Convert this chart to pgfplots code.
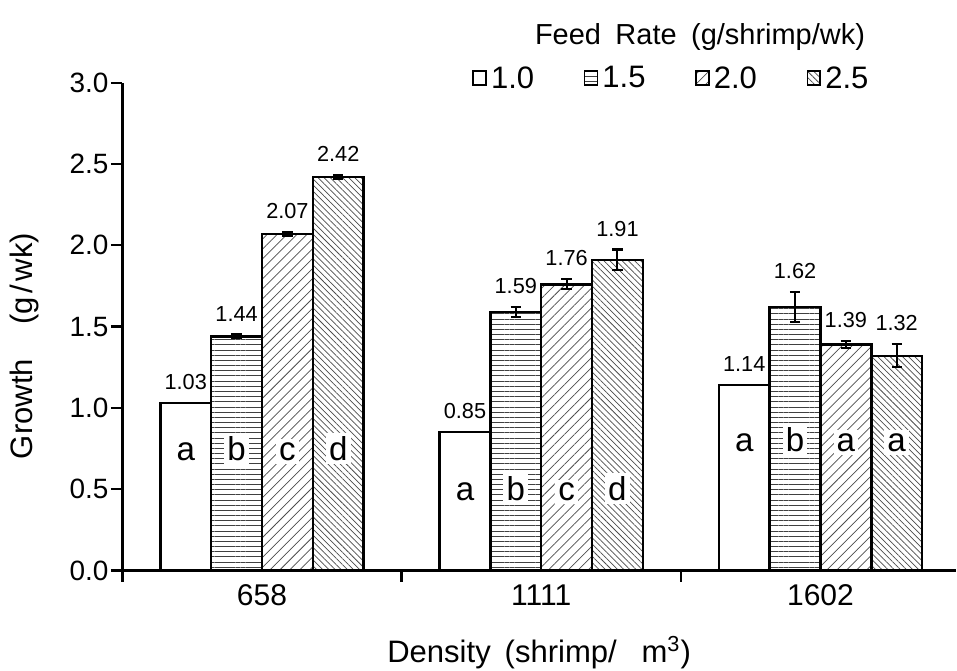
\documentclass[border=0pt]{standalone}
\usepackage{pgfplots}
\usepackage{pgfplotstable}
\pgfplotsset{compat=1.18}
\usepackage{fontspec}
\setmainfont{Liberation Sans}
\usetikzlibrary{patterns,patterns.meta}

\pgfplotstableread{
x y err lab let ly
0 1.03 0.0 1.03 a 0.677
1 0.85 0.0 0.85 a 0.43
2 1.14 0.0 1.14 a 0.733
}\tA
\pgfplotstableread{
x y err lab let ly
0 1.44 0.012 1.44 b 0.677
1 1.59 0.03 1.59 b 0.43
2 1.62 0.09 1.62 b 0.733
}\tB
\pgfplotstableread{
x y err lab let ly
0 2.07 0.012 2.07 c 0.677
1 1.76 0.03 1.76 c 0.43
2 1.39 0.02 1.39 a 0.733
}\tC
\pgfplotstableread{
x y err lab let ly
0 2.42 0.012 2.42 d 0.677
1 1.91 0.064 1.91 d 0.43
2 1.32 0.07 1.32 a 0.733
}\tD

\pgfplotsset{
  legsq/.style={legend image code/.code={\draw[##1,line width=0.8pt,draw=black] (0pt,-3pt) rectangle (6.2pt,3.6pt);}},
  mybar/.style={ybar, bar width=0.182, bar shift=0pt, draw=black, line width=1.2pt,
    error bars/.cd, y dir=both, y explicit,
    error bar style={line width=1pt, black},
    error mark options={rotate=90, line width=1pt, mark size=2.5pt, black},
    /pgfplots/.cd,
    nodes near coords, point meta=explicit symbolic,
    visualization depends on={\thisrow{err} \as \myerr},
    every node near coord/.append style={shift={(axis direction cs:0,\myerr)}, anchor=south, inner sep=1pt, yshift=4.8pt, font=\fontsize{10.5}{10.5}\selectfont, text=black},
    legsq},
  letters/.style={only marks, mark=none, forget plot, nodes near coords, point meta=explicit symbolic,
    every node near coord/.append style={anchor=base, inner sep=1.5pt, font=\fontsize{16}{16}\selectfont, text=black, fill=white}},
}

\begin{document}
\begin{tikzpicture}
\begin{axis}[
  scale only axis, width=402.9pt, height=235.8pt,
  xmin=-0.5, xmax=2.485, ymin=0, ymax=3,
  axis x line=bottom, axis y line=left,
  axis line style={-, line width=1.1pt},
  tick align=outside, major tick length=5.5pt,
  tick style={line width=1.1pt, black},
  ytick={0,0.5,1,1.5,2,2.5,3},
  yticklabel style={inner xsep=1pt, font=\fontsize{13.5}{14}\selectfont, /pgf/number format/.cd, fixed, precision=1, zerofill, assume math mode=true},
  xtick={-0.5,0.5,1.5}, xticklabels={},
  extra x ticks={0,1,2}, extra x tick labels={658,1111,1602},
  extra x tick style={major tick length=0pt},
  xticklabel style={font=\fontsize{14.5}{15}\selectfont, yshift=-3.4pt},
  xlabel={Density\hspace{0.45em}(shrimp/\hspace{0.8em}m\textsuperscript{3})},
  ylabel={Growth\hspace{1.1em}(g\hspace{0.12em}/\hspace{0.12em}wk)},
  xlabel style={at={(axis description cs:0.5,-0.168)}, anchor=center, inner xsep=0pt, inner ysep=1pt, font=\fontsize{15}{15}\selectfont},
  ylabel style={at={(axis description cs:-0.1178,0.46)}, anchor=center, rotate=0, inner sep=4.7pt, font=\fontsize{15}{15}\selectfont},
  title={Feed\hspace{0.5em}Rate\hspace{0.5em}(g/shrimp/wk)},
  title style={at={(0.693,1.068)}, anchor=center, inner xsep=0pt, inner ysep=11.4pt, font=\fontsize{14}{14}\selectfont},
  legend style={at={(0.66,1.008)}, anchor=center, draw=none, fill=none,
    font=\fontsize{15}{15}\selectfont, legend columns=4,
    /tikz/every even column/.append style={column sep=22pt},
    /tikz/every odd column/.append style={column sep=0pt}},
  clip=false,
]
\addplot[mybar, fill=white] table[x expr=\thisrow{x}-0.273, y=y, y error=err, meta=lab]{\tA};
\addlegendentry{1.0}
\addplot[mybar, pattern={Lines[angle=0, distance=2.5pt, line width=0.4pt]}, pattern color=black!75] table[x expr=\thisrow{x}-0.091, y=y, y error=err, meta=lab]{\tB};
\addlegendentry{1.5}
\addplot[mybar, pattern={Lines[angle=45, distance=3.4pt, line width=0.35pt]}, pattern color=black!70] table[x expr=\thisrow{x}+0.091, y=y, y error=err, meta=lab]{\tC};
\addlegendentry{2.0}
\addplot[mybar, pattern={Lines[angle=-45, distance=2.1pt, line width=0.35pt]}, pattern color=black!70] table[x expr=\thisrow{x}+0.273, y=y, y error=err, meta=lab]{\tD};
\addlegendentry{2.5}
\addplot[letters] table[x expr=\thisrow{x}-0.273, y=ly, meta=let]{\tA};
\addplot[letters] table[x expr=\thisrow{x}-0.091, y=ly, meta=let]{\tB};
\addplot[letters] table[x expr=\thisrow{x}+0.091, y=ly, meta=let]{\tC};
\addplot[letters] table[x expr=\thisrow{x}+0.273, y=ly, meta=let]{\tD};
\end{axis}
\end{tikzpicture}
\end{document}
